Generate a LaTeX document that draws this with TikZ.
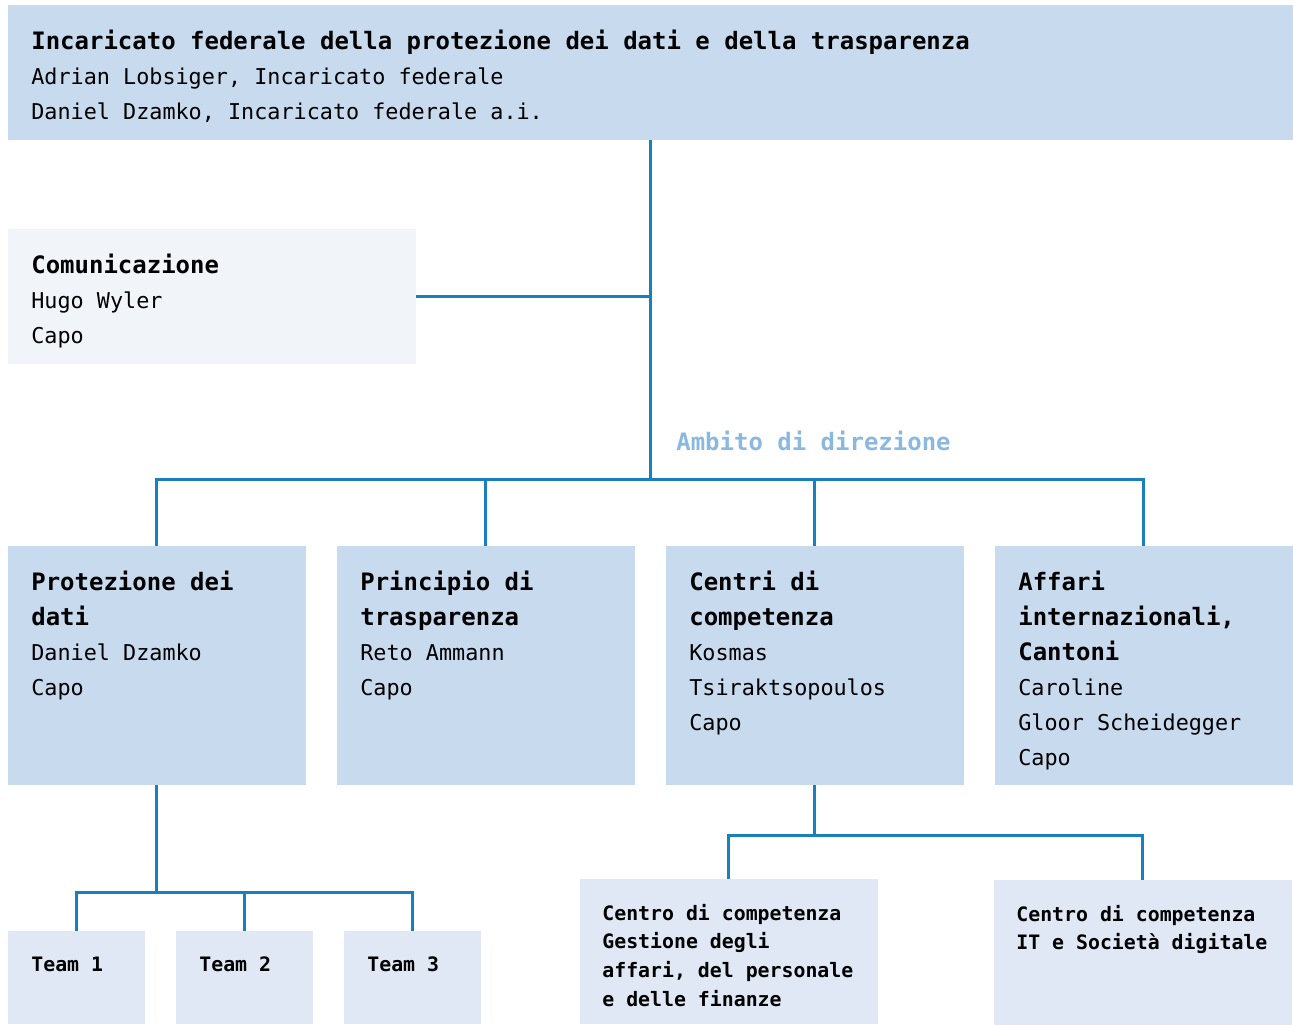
\documentclass[tikz,border=0pt]{standalone}
\usepackage{fontspec}
\setmonofont{DejaVu Sans Mono}
\usetikzlibrary{positioning}
\usetikzlibrary{calc}

\definecolor{headblue}{HTML}{C8DAEE}
\definecolor{paleblue}{HTML}{F1F5FA}
\definecolor{lightblue}{HTML}{DFE8F4}
\definecolor{linkblue}{HTML}{1A7FBF}
\definecolor{labelblue}{HTML}{8AB8DF}

\newcommand{\unithead}[1]{{\fontsize{13.65}{19.85}\selectfont\bfseries #1}}

\begin{document}
\begin{tikzpicture}[
    x=0.02cm, y=-0.02cm,
    box/.style={rectangle, anchor=north west, inner sep=0, outer sep=0},
    headbox/.style={box, fill=headblue, minimum width=25.7cm, minimum height=2.7cm},
    commbox/.style={box, fill=paleblue, minimum width=8.16cm, minimum height=2.7cm},
    unitbox/.style={box, fill=headblue, minimum width=5.96cm, minimum height=4.78cm},
    teambox/.style={box, fill=lightblue, minimum width=2.74cm, minimum height=1.86cm},
    subbox/.style={box, fill=lightblue, minimum width=5.96cm, minimum height=2.9cm},
    bigtext/.style={anchor=north west, inner sep=0, align=left, execute at begin node=\strut,
        font=\ttfamily\fontsize{12.4}{19.85}\selectfont},
    smalltext/.style={anchor=north west, inner sep=0, align=left, execute at begin node=\strut,
        font=\ttfamily\bfseries\fontsize{11.3}{16.4}\selectfont},
    link/.style={draw=linkblue, line width=0.06cm},
]
    \useasboundingbox (0,0) rectangle (1293,1024);

    % boxes
    \node[headbox] (head) at (8,5) {};
    \node[commbox] (comm) at (8,229) {};
    \node[unitbox] (dp) at (8,546) {};
    \node[unitbox] (tp) at (337,546) {};
    \node[unitbox] (cc) at (666,546) {};
    \node[unitbox] (ai) at (995,546) {};
    \node[teambox] (team1) at (8,931) {};
    \node[teambox] (team2) at (176,931) {};
    \node[teambox] (team3) at (344,931) {};
    \node[subbox] (ccga) at (580,879) {};
    \node[subbox] (ccit) at (994,880) {};

    % texts
    \node[bigtext] (head-txt) [below right=0.5cm and 0.46cm of head.north west]
        {\unithead{Incaricato federale della protezione dei dati e della trasparenza}\\
         Adrian Lobsiger, Incaricato federale\\
         Daniel Dzamko, Incaricato federale a.i.};
    \node[bigtext] (comm-txt) [below right=0.5cm and 0.46cm of comm.north west]
        {\unithead{Comunicazione}\\Hugo Wyler\\Capo};
    \node[bigtext] (dp-txt) [below right=0.5cm and 0.46cm of dp.north west]
        {\unithead{Protezione dei}\\\unithead{dati}\\Daniel Dzamko\\Capo};
    \node[bigtext] (tp-txt) [below right=0.5cm and 0.46cm of tp.north west]
        {\unithead{Principio di}\\\unithead{trasparenza}\\Reto Ammann\\Capo};
    \node[bigtext] (cc-txt) [below right=0.5cm and 0.46cm of cc.north west]
        {\unithead{Centri di}\\\unithead{competenza}\\Kosmas\\Tsiraktsopoulos\\Capo};
    \node[bigtext] (ai-txt) [below right=0.5cm and 0.46cm of ai.north west]
        {\unithead{Affari}\\\unithead{internazionali,}\\\unithead{Cantoni}\\Caroline\\Gloor Scheidegger\\Capo};
    \node[smalltext] (team1-txt) [below right=0.39cm and 0.46cm of team1.north west] {Team 1};
    \node[smalltext] (team2-txt) [below right=0.39cm and 0.46cm of team2.north west] {Team 2};
    \node[smalltext] (team3-txt) [below right=0.39cm and 0.46cm of team3.north west] {Team 3};
    \node[smalltext] (ccga-txt) [below right=0.49cm and 0.44cm of ccga.north west]
        {Centro di competenza\\Gestione degli\\affari, del personale\\e delle finanze};
    \node[smalltext] (ccit-txt) [below right=0.49cm and 0.44cm of ccit.north west]
        {Centro di competenza\\IT e Società digitale};

    \node[anchor=base west, inner sep=0, text=labelblue, font=\ttfamily\bfseries\fontsize{13.65}{19.85}\selectfont]
        (ambito) at (676,450) {Ambito di direzione};

    % connectors
    \coordinate (bus) at ($(head.south)+(0,340)$);
    \coordinate (tbus) at ($(dp.south)+(0,108)$);
    \coordinate (sbus) at ($(cc.south)+(0,51)$);

    \draw[link] (head.south) -- (bus);
    \draw[link] (comm.east) -- (comm.east -| head.south);
    \draw[link] (dp.north) |- (bus) -| (ai.north);
    \draw[link] (tp.north) -- (tp.north |- bus);
    \draw[link] (cc.north) -- (cc.north |- bus);

    \draw[link] (dp.south) -- (tbus);
    \draw[link] (team1.north) |- (tbus) -| (team3.north);
    \draw[link] (team2.north) -- (team2.north |- tbus);

    \draw[link] (cc.south) -- (sbus);
    \draw[link] (ccga.north) |- (sbus) -| (ccit.north);

\end{tikzpicture}
\end{document}
